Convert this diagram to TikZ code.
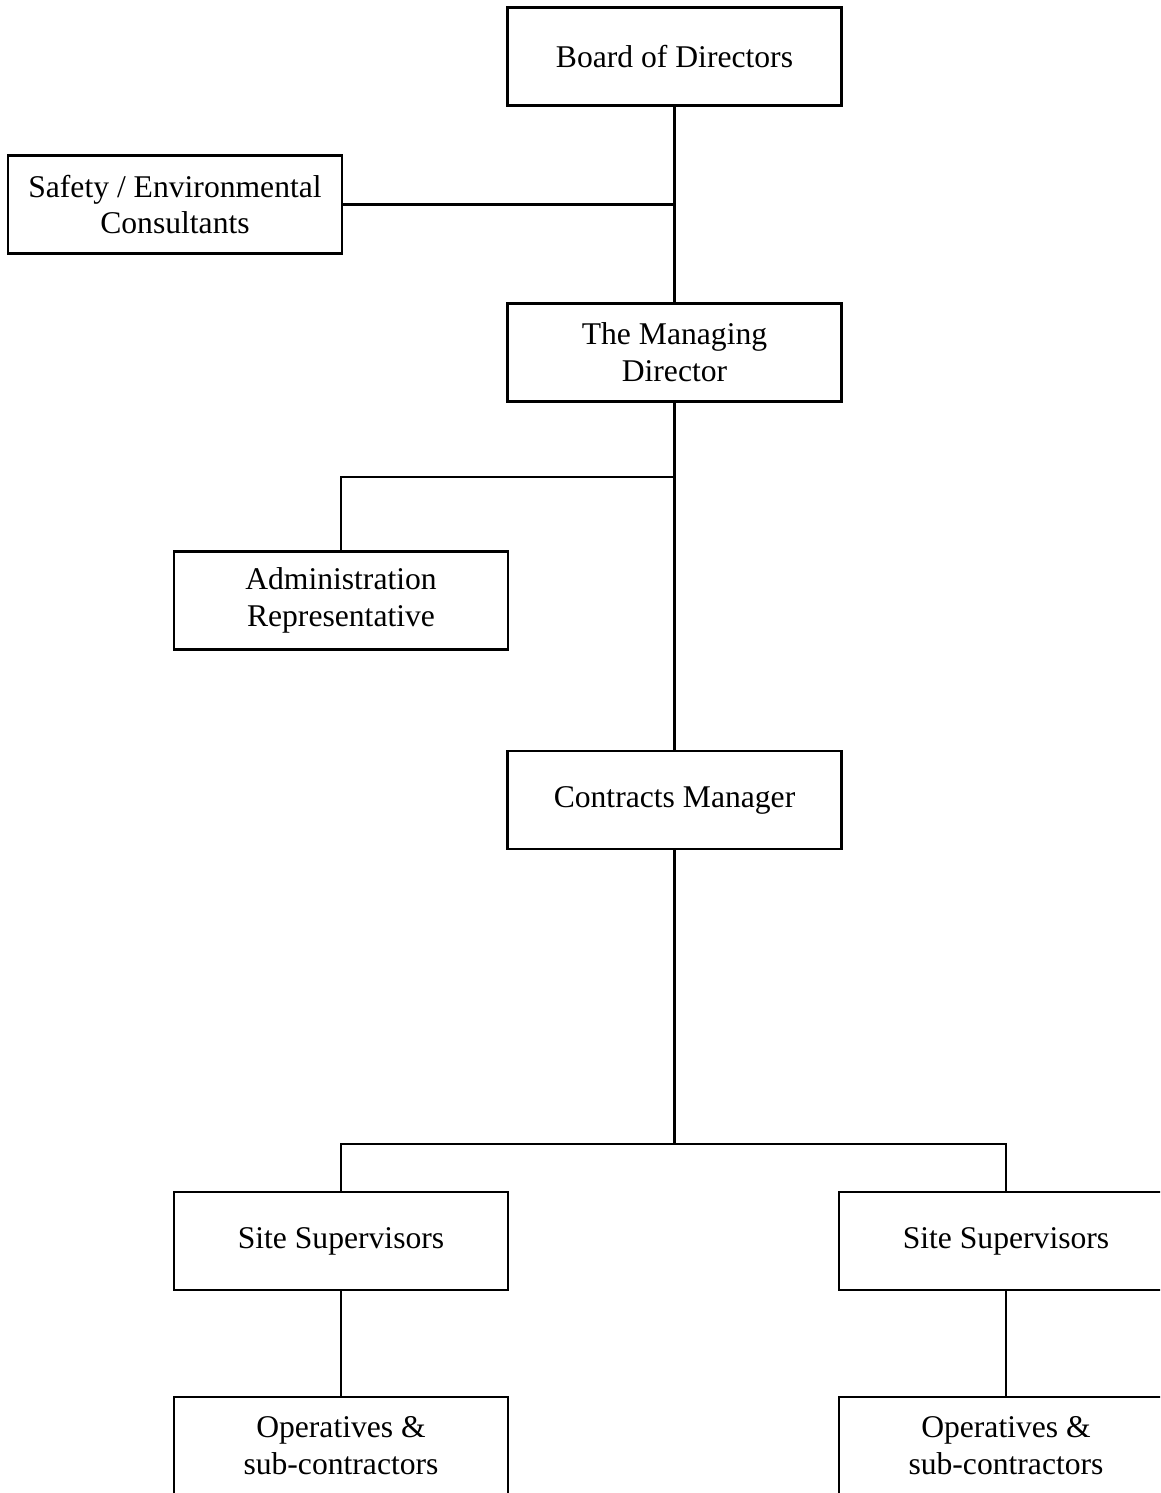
\documentclass[tikz,border=0pt]{standalone}
\usepackage{fontspec}
\setmainfont{Liberation Serif}
\usetikzlibrary{positioning,calc}

\begin{document}
\begin{tikzpicture}[x=0.02cm, y=-0.02cm, line width=1.5pt,
  box/.style={draw, rectangle, align=center, minimum width=6.68cm, minimum height=1.96cm,
    inner sep=2pt, font=\fontsize{18}{21}\selectfont}]
% 页面范围
\useasboundingbox (0,0) rectangle (1160,1493);
\clip (0,0) rectangle (1160,1493);

% 上层
\node[box] (board) at (674.5,56.5) {Board of Directors};
\node[box] (safety) at (175,204.5) {Safety / Environmental\\Consultants};
\node[box] (md) at (674.5,352.5) {The Managing\\Director};

% 中层
\node[box] (admin) at (341,600.5) {Administration\\Representative};
\node[box] (contracts) at (674.5,800) {Contracts Manager};

% 下层
\node[box] (siteL) at (341,1241) {Site Supervisors};
\node[box] (siteR) at (1006,1241) {Site Supervisors};
\node[box] (opsL) at (341,1446) {Operatives \&\\sub-contractors};
\node[box] (opsR) at (1006,1446) {Operatives \&\\sub-contractors};

% 分支点
\coordinate (forkA) at (674.5,477);
\coordinate (forkB) at (674.5,1144);

% 连接线
\draw (board) -- (md);
\draw (safety.east) -- (safety.east -| board.south);
\draw (md) -- (contracts);
\draw (admin.north) |- (forkA);
\draw (contracts) -- (forkB);
\draw (siteL.north) |- (forkB) -| (siteR.north);
\draw (siteL) -- (opsL);
\draw (siteR) -- (opsR);
\end{tikzpicture}
\end{document}
